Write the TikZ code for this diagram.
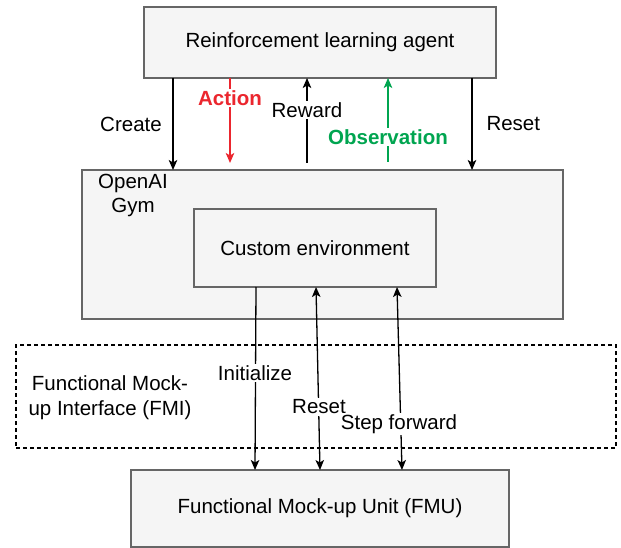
\documentclass[tikz,border=0pt]{standalone}
\usepackage{fontspec}
\setmainfont{Liberation Sans}
\usetikzlibrary{arrows.meta}
\definecolor{boxfill}{HTML}{F5F5F5}
\definecolor{boxline}{HTML}{666666}
\definecolor{actred}{RGB}{235,38,46}
\definecolor{obsgreen}{RGB}{0,165,80}
\begin{document}
\begin{tikzpicture}[x=1pt,y=-1pt,
  every node/.style={font=\fontsize{20.5}{24}\selectfont},
  box/.style={draw=boxline,fill=boxfill,line width=1.4pt,inner sep=0pt,outer sep=0pt},
  fmibox/.style={draw=black,dash pattern=on 4pt off 3pt,line width=1.2pt,inner sep=0pt,outer sep=0pt},
  arr/.style={line width=1.3pt,-{Stealth[length=10pt,width=8.5pt,inset=2.5pt]}},
  biarr/.style={line width=1.3pt,{Stealth[length=10pt,width=8.5pt,inset=2.5pt]}-{Stealth[length=10pt,width=8.5pt,inset=2.5pt]}},
  lbl/.style={fill=white,inner sep=1.5pt}]
\useasboundingbox (0,0) rectangle (621,548);
% boxes
\node[box,minimum width=352pt,minimum height=71pt] (agent) at (320,42.5) {Reinforcement learning agent};
\node[box,minimum width=481pt,minimum height=149pt] (gym) at (322.5,244.5) {};
\node[box,minimum width=242pt,minimum height=78pt] (env) at (315,248) {Custom environment};
\node[fmibox,minimum width=600pt,minimum height=103pt] (fmi) at (316,396.5) {};
\node[box,minimum width=378pt,minimum height=77pt] (fmu) at (320,508.5) {Functional Mock-up Unit (FMU)};
\node[align=center,font=\fontsize{20.5}{24}\selectfont] (gymlbl) at (133,195) {OpenAI\\Gym};
\node[align=center,font=\fontsize{20.5}{25}\selectfont] (fmilbl) at (110,397.5) {Functional Mock-\\up Interface (FMI)};
% x positions
\coordinate (xcreate) at (173,0);
\coordinate (xaction) at (230,0);
\coordinate (xreward) at (307,0);
\coordinate (xobs) at (388,0);
\coordinate (xreset) at (472,0);
\coordinate (actend) at (230,163);
\coordinate (rewstart) at (307,163);
\coordinate (obsstart) at (388,162);
% top connectors
\draw[arr] (agent.south -| xcreate) -- (gym.north -| xcreate);
\node (create) at (131,124) {Create};
\draw[arr,draw=actred,fill=actred] (agent.south -| xaction) -- (actend);
\node[lbl,text=actred,font=\fontsize{20.5}{24}\selectfont\bfseries] (action) at (230,98) {Action};
\draw[arr] (rewstart) -- (agent.south -| xreward);
\node[lbl] (reward) at (307,110) {Reward};
\draw[arr,draw=obsgreen,fill=obsgreen] (obsstart) -- (agent.south -| xobs);
\node[lbl,text=obsgreen,font=\fontsize{20.5}{24}\selectfont\bfseries] (obs) at (388,137) {Observation};
\draw[arr] (agent.south -| xreset) -- (gym.north -| xreset);
\node[anchor=west] (resettop) at (483,124) {Reset};
% bottom connectors
\coordinate (i1) at (256,287); \coordinate (i2) at (255,470);
\coordinate (r1) at (316,287); \coordinate (r2) at (320,470);
\coordinate (s1) at (397,287); \coordinate (s2) at (402,470);
\draw[arr] (i1) -- (i2);
\draw[biarr] (r1) -- (r2);
\draw[biarr] (s1) -- (s2);
\node[lbl] (init) at (255,373) {Initialize};
\node[lbl] (resetb) at (319,407) {Reset};
\node[lbl] (step) at (399,424) {Step forward};
\end{tikzpicture}
\end{document}
